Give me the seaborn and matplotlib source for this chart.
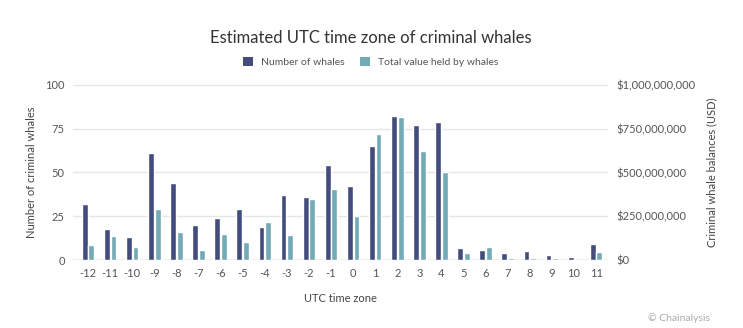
import matplotlib
matplotlib.use("Agg")
import matplotlib.pyplot as plt
import matplotlib.ticker as mticker
from matplotlib.patches import Patch
import seaborn as sns
import pandas as pd

zones = ["-12", "-11", "-10", "-9", "-8", "-7", "-6", "-5", "-4", "-3", "-2", "-1",
         "0", "1", "2", "3", "4", "5", "6", "7", "8", "9", "10", "11"]
num_whales = [32, 18, 13, 61, 44, 20, 24, 29, 19, 37, 36, 54,
              42, 65, 82, 77, 79, 7, 6, 4, 5, 3, 2, 9]
total_value = [85e6, 135e6, 72e6, 290e6, 162e6, 58e6, 148e6, 105e6, 220e6, 143e6, 350e6, 405e6,
               252e6, 720e6, 815e6, 625e6, 500e6, 38e6, 73e6, 10e6, 9e6, 9e6, 2e6, 45e6]
series = ["Number of whales", "Total value held by whales"]
colors = ["#424d7d", "#72aab6"]

sns.set_theme(style="white")
plt.rcParams["font.family"] = ["Lato", "DejaVu Sans"]

df_n = pd.DataFrame({"zone": zones, "val": num_whales, "series": series[0]})
df_v = pd.DataFrame({"zone": zones, "val": total_value, "series": series[1]})

fig = plt.figure(figsize=(7.43, 3.28), dpi=100)
ax = fig.add_axes([0.0983, 0.2073, 0.72, 0.5336])
ax2 = ax.twinx()

pal = dict(zip(series, colors))
sns.barplot(data=df_n, x="zone", y="val", hue="series", hue_order=series, order=zones,
            palette=pal, width=0.6, gap=0.12, dodge=True, ax=ax, legend=False, saturation=1)
sns.barplot(data=df_v, x="zone", y="val", hue="series", hue_order=series, order=zones,
            palette=pal, width=0.6, gap=0.12, dodge=True, ax=ax2, legend=False, saturation=1)

for a in (ax, ax2):
    a.set_xlim(-0.68, 23.54)
    for s in a.spines.values():
        s.set_visible(False)
    a.tick_params(axis="both", length=0, labelsize=8, colors="#555555", pad=6)

ax.set_ylim(0, 100)
ax.set_yticks([0, 25, 50, 75, 100])
ax2.set_ylim(0, 1e9)
ax2.set_yticks([0, 2.5e8, 5e8, 7.5e8, 1e9])
ax2.yaxis.set_major_formatter(mticker.FuncFormatter(lambda v, p: f"${v:,.0f}"))
ax.yaxis.grid(True, color="#e6e6e6", linewidth=1)
ax.set_axisbelow(True)
ax2.grid(False)
ax.axhline(0, color="#bfbfbf", linewidth=1, zorder=0.5)

ax.set_xlabel("UTC time zone", fontsize=8, color="#444444", labelpad=10)
ax.set_ylabel("Number of criminal whales", fontsize=8, color="#444444", labelpad=6)
ax2.set_ylabel("Criminal whale balances (USD)", fontsize=8, color="#444444", labelpad=8)
ax2.set_xlabel("")

fig.text(0.499, 0.885, "Estimated UTC time zone of criminal whales", ha="center", va="center",
         fontsize=12, color="#333333")
handles = [Patch(facecolor=c, edgecolor="none", label=s) for s, c in zip(series, colors)]
fig.legend(handles=handles, loc="center", bbox_to_anchor=(0.499, 0.81), ncol=2, frameon=False,
           fontsize=7.5, handlelength=0.9, handleheight=0.9, columnspacing=1.5, handletextpad=0.8,
           labelcolor="#555555")
fig.text(0.955, 0.03, "© Chainalysis", ha="right", va="center", fontsize=7.5, color="#aaaaaa")

fig.savefig("out.png", dpi=100, facecolor="white")
